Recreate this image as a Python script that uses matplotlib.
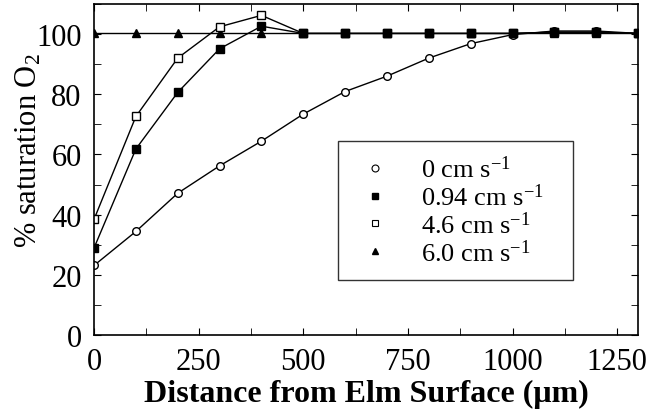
import matplotlib
matplotlib.use("Agg")
import matplotlib.pyplot as plt
from matplotlib.lines import Line2D
from matplotlib.ticker import MultipleLocator

plt.rcParams['font.family'] = ['Liberation Serif', 'DejaVu Serif']
plt.rcParams['mathtext.fontset'] = 'custom'
plt.rcParams['mathtext.rm'] = 'Liberation Serif'
plt.rcParams['mathtext.it'] = 'Liberation Serif:italic'

# distancia desde la superficie (um)
dist = [0, 100, 200, 300, 400, 500, 600, 700, 800, 900, 1000, 1100, 1200, 1300]

# % saturacion O2 para cada velocidad
v0 = [23.1, 34.4, 47.1, 56.2, 64.4, 73.4, 80.9, 86, 92, 96.8, 99.8, 101, 101, 100.2]
v094 = [28.9, 61.8, 80.6, 95.1, 102.6, 100.2, 100.2, 100.2, 100.2, 100.2, 100.2, 100.6, 100.6, 100.2]
v46 = [38.4, 72.6, 92, 102.4, 106.2, 100.2, 100.2, 100.2, 100.2, 100.2, 100.2, 100.6, 100.6, 100.2]
v60 = [100.2] * 14

etiquetas = ['0 cm s$^{\\mathrm{-1}}$', '0.94 cm s$^{\\mathrm{-1}}$',
             '4.6 cm s$^{\\mathrm{-1}}$', '6.0 cm s$^{\\mathrm{-1}}$']

fig = plt.figure(figsize=(6.64, 4.10), dpi=100)
ax = fig.add_axes([0.1416, 0.1805, 0.8194, 0.8075])

ax.plot(dist, v60, color='black', lw=1, marker='^', ms=5.5, mfc='black', mec='black')
ax.plot(dist, v0, color='black', lw=1, marker='o', ms=5.5, mfc='white', mec='black', mew=1)
ax.plot(dist, v46, color='black', lw=1, marker='s', ms=5.5, mfc='white', mec='black', mew=1)
ax.plot(dist, v094, color='black', lw=1, marker='s', ms=5.5, mfc='black', mec='black')

ax.set_xlim(0, 1300)
ax.set_ylim(0, 110)
ax.xaxis.set_major_locator(MultipleLocator(250))
ax.xaxis.set_minor_locator(MultipleLocator(125))
ax.yaxis.set_major_locator(MultipleLocator(20))
ax.yaxis.set_minor_locator(MultipleLocator(10))
ax.tick_params(which='both', direction='in', top=True, right=True, labelsize=22)
ax.tick_params(axis='x', pad=9)
ax.tick_params(axis='y', pad=9)
ax.tick_params(which='major', length=5)
ax.tick_params(which='minor', length=5)
for s in ax.spines.values():
    s.set_linewidth(1.2)

ax.set_xlabel('Distance from Elm Surface (μm)', fontsize=23, fontweight='bold')
ax.xaxis.label.set_va('center')
ax.xaxis.set_label_coords(0.5, -0.178)
ax.set_ylabel('% saturation O$_2$', fontsize=22)
ax.yaxis.label.set_va('center')
ax.yaxis.set_label_coords(-0.12, 0.56)

handles = [
    Line2D([], [], ls='none', marker='o', ms=5, mfc='white', mec='black', mew=0.8),
    Line2D([], [], ls='none', marker='s', ms=5, mfc='black', mec='black'),
    Line2D([], [], ls='none', marker='s', ms=5, mfc='white', mec='black', mew=0.8),
    Line2D([], [], ls='none', marker='^', ms=5, mfc='black', mec='black'),
]
leg = ax.legend(handles, etiquetas, loc='lower left', bbox_to_anchor=(0.449, 0.166, 0.431, 0.417),
                mode='expand', fontsize=19, frameon=True, fancybox=False, edgecolor='black',
                borderpad=0.55, labelspacing=0.05, handletextpad=0.9, handlelength=1.7,
                borderaxespad=0)
leg.get_frame().set_linewidth(1)

fig.savefig('out.png', dpi=100)
